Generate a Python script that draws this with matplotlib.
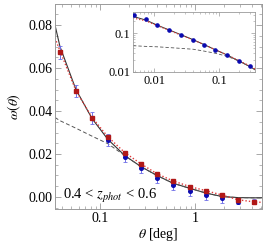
import matplotlib
matplotlib.use("Agg")
import matplotlib.pyplot as plt
from matplotlib.ticker import MultipleLocator, LogLocator, NullFormatter, FixedLocator, FixedFormatter

plt.rcParams['font.family'] = ['Liberation Serif', 'DejaVu Serif']
plt.rcParams['mathtext.fontset'] = 'stix'

# ---- main panel data ----
theta = [0.0379, 0.0558, 0.0824, 0.121, 0.183, 0.270, 0.398, 0.586, 0.885, 1.31, 1.92, 2.84, 4.18]
w_red = [0.0674, 0.0493, 0.0367, 0.0279, 0.0205, 0.0153, 0.0107, 0.0074, 0.0047, 0.0028, 0.0009, -0.0014, -0.0023]
w_blue = [0.0674, 0.0493, 0.0367, 0.0265, 0.0186, 0.0135, 0.0088, 0.0056, 0.0028, 0.0009, -0.0005, -0.0023, -0.0023]
err_blue = [0.0030, 0.0028, 0.0027, 0.0026, 0.0024, 0.0024, 0.0024, 0.0024, 0.0023, 0.0022, 0.0022, 0.0012, 0.0012]

curve_theta = [0.0336, 0.0379, 0.0558, 0.0824, 0.121, 0.183, 0.270, 0.398, 0.586, 0.885, 1.31, 1.92, 2.84, 4.18, 5.07]
solid_w = [0.0800, 0.0700, 0.0500, 0.0365, 0.0268, 0.0192, 0.0141, 0.0100, 0.0064, 0.0040, 0.0018, 0.0002, -0.0003, -0.0004, -0.0004]
dotted_w = [0.0740, 0.0680, 0.0495, 0.0370, 0.0280, 0.0206, 0.0154, 0.0108, 0.0075, 0.0048, 0.0029, 0.0009, -0.0013, -0.0023, -0.0025]
dashed_w = [0.0370, 0.0355, 0.0320, 0.0283, 0.0248, 0.0192, 0.0141, 0.0100, 0.0064, 0.0040, 0.0018, 0.0002, -0.0003, -0.0004, -0.0004]

# ---- inset data ----
theta_in = [0.0049, 0.0075, 0.0111, 0.017, 0.026, 0.040, 0.059, 0.087, 0.133, 0.20, 0.30]
w_in = [0.295, 0.224, 0.160, 0.119, 0.089, 0.065, 0.049, 0.036, 0.027, 0.019, 0.0143]
curve_theta_in = [0.0047, 0.0075, 0.0111, 0.017, 0.026, 0.040, 0.059, 0.087, 0.133, 0.20, 0.30, 0.358]
solid_in = [0.270, 0.215, 0.160, 0.120, 0.090, 0.067, 0.050, 0.037, 0.027, 0.019, 0.0135, 0.0112]
dotted_in = [0.245, 0.205, 0.155, 0.117, 0.088, 0.066, 0.050, 0.037, 0.027, 0.0195, 0.0140, 0.0118]
dashed_in = [0.047, 0.045, 0.044, 0.042, 0.040, 0.038, 0.034, 0.030, 0.025, 0.019, 0.0135, 0.0112]

RED = '#b01818'
BLUE = '#0a0ab0'
EBLUE = '#6f6fe8'
FRAME = '#9a9a9a'

fig = plt.figure(figsize=(2.66, 2.47), dpi=100)
ax = fig.add_axes([55/266, 1-209/247, (262-55)/266, (209-4)/247])

ax.plot(curve_theta, solid_w, color='#333333', lw=0.8, zorder=2)
ax.plot(curve_theta, dashed_w, color='#555555', lw=0.7, ls=(0, (4, 2.5)), zorder=2)
ax.plot(curve_theta, dotted_w, color='#e03a3a', lw=1.0, ls=(0, (1, 1.5)), zorder=2)
ax.errorbar(theta, w_blue, yerr=err_blue, fmt='o', color=BLUE, ecolor=EBLUE,
            elinewidth=0.7, capsize=1.3, capthick=0.6, ms=2.6, zorder=3)
ax.plot(theta, w_red, 's', color=RED, ms=2.7, zorder=4)

ax.set_xscale('log')
ax.set_xlim(0.0336, 5.07)
ax.set_ylim(-0.0056, 0.0898)
ax.yaxis.set_major_locator(FixedLocator([0.0, 0.02, 0.04, 0.06, 0.08]))
ax.yaxis.set_major_formatter(FixedFormatter(['0.00', '0.02', '0.04', '0.06', '0.08']))
ax.yaxis.set_minor_locator(MultipleLocator(0.005))
ax.xaxis.set_major_locator(FixedLocator([0.1, 1]))
ax.xaxis.set_major_formatter(FixedFormatter(['0.1', '1']))
ax.xaxis.set_minor_locator(LogLocator(base=10, subs=range(2, 10)))
ax.xaxis.set_minor_formatter(NullFormatter())
ax.tick_params(which='both', direction='in', top=True, right=True, color=FRAME, labelsize=10, pad=2)
ax.tick_params(which='major', length=4, width=0.6)
ax.tick_params(which='minor', length=2, width=0.5)
for s in ax.spines.values():
    s.set_color(FRAME)
    s.set_linewidth(0.7)
ax.set_ylabel(r'$\omega(\theta)$', fontsize=10, labelpad=4)
ax.set_xlabel(r'$\theta$ [deg]', fontsize=10, labelpad=1)
ax.text(0.04, 0.065, r'0.4 < $z_{phot}$ < 0.6', transform=ax.transAxes, fontsize=10.5,
        ha='left', va='center')

# ---- inset ----
axi = fig.add_axes([133/266, 1-72/247, (255-133)/266, (72-12)/247])
axi.plot(curve_theta_in, solid_in, color='#333333', lw=0.7, zorder=2)
axi.plot(curve_theta_in, dashed_in, color='#555555', lw=0.6, ls=(0, (4, 2.5)), zorder=2)
axi.plot(curve_theta_in, dotted_in, color='#e03a3a', lw=0.9, ls=(0, (1, 1.5)), zorder=2)
axi.plot(theta_in, w_in, 'o', color=BLUE, ms=2.3, zorder=3)
axi.set_xscale('log')
axi.set_yscale('log')
axi.set_xlim(0.0047, 0.358)
axi.set_ylim(0.0098, 0.35)
axi.xaxis.set_major_locator(FixedLocator([0.01, 0.1]))
axi.xaxis.set_major_formatter(FixedFormatter(['0.01', '0.1']))
axi.yaxis.set_major_locator(FixedLocator([0.01, 0.1]))
axi.yaxis.set_major_formatter(FixedFormatter(['0.01', '0.1']))
axi.xaxis.set_minor_locator(LogLocator(base=10, subs=range(2, 10)))
axi.yaxis.set_minor_locator(LogLocator(base=10, subs=range(2, 10)))
axi.xaxis.set_minor_formatter(NullFormatter())
axi.yaxis.set_minor_formatter(NullFormatter())
axi.tick_params(which='both', direction='in', top=True, right=True, color=FRAME, labelsize=9, pad=2)
axi.tick_params(which='major', length=3, width=0.5)
axi.tick_params(which='minor', length=1.5, width=0.4)
for s in axi.spines.values():
    s.set_color(FRAME)
    s.set_linewidth(0.6)

fig.savefig('out.png', dpi=100)
